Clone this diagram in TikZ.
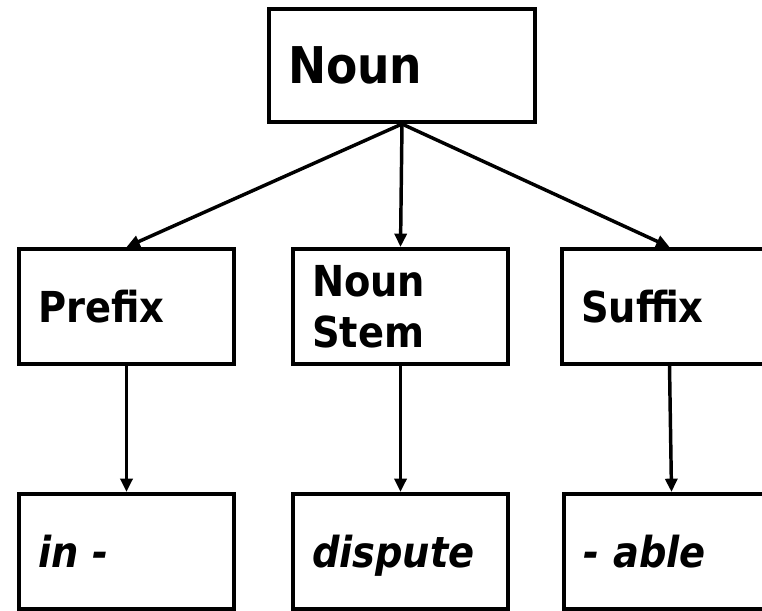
\documentclass[tikz,border=0pt]{standalone}
\usepackage{fontspec}
\newfontfamily\dvc{DejaVu Sans Condensed}
\usetikzlibrary{arrows.meta}
\tikzset{
  box/.style={draw, line width=3pt, minimum width=161.25pt, minimum height=86.25pt,
    inner xsep=14.25pt, inner ysep=0pt, text width=132.75pt, align=left,
    font=\dvc\bfseries\fontsize{32}{38.25}\selectfont},
  topbox/.style={box, minimum width=199.5pt, minimum height=84.75pt, text width=171pt,
    font=\dvc\bfseries\fontsize{38}{45}\selectfont},
  leafbox/.style={box, text depth=0pt, font=\dvc\bfseries\itshape\fontsize{32}{38.25}\selectfont},
  link/.style={line width=2.6pt, -{Triangle[length=10pt,width=9pt]}}
}
\begin{document}
\begin{tikzpicture}[x=0.75pt,y=-0.75pt]
\useasboundingbox (0,0) rectangle (762,610);
\clip (0,0) rectangle (762,610);
\node[topbox] (noun) at (402,65.5) {Noun};
\node[box] (prefix) at (126.5,306.5) {Prefix};
\node[box] (stem) at (400.5,306.5) {Noun\\Stem};
\node[box] (suffix) at (669.5,306.5) {Suffix};
\node[leafbox] (in) at (126.5,551.5) {in -};
\node[leafbox] (dispute) at (400.5,551.5) {dispute};
\node[leafbox] (able) at (671.5,551.5) {- able};
\draw[link] (noun.south) -- (prefix.north);
\draw[link] (noun.south) -- (stem.north);
\draw[link] (noun.south) -- (suffix.north);
\draw[link] (prefix.south) -- (in.north);
\draw[link] (stem.south) -- (dispute.north);
\draw[link] (suffix.south) -- (able.north);
\end{tikzpicture}
\end{document}
